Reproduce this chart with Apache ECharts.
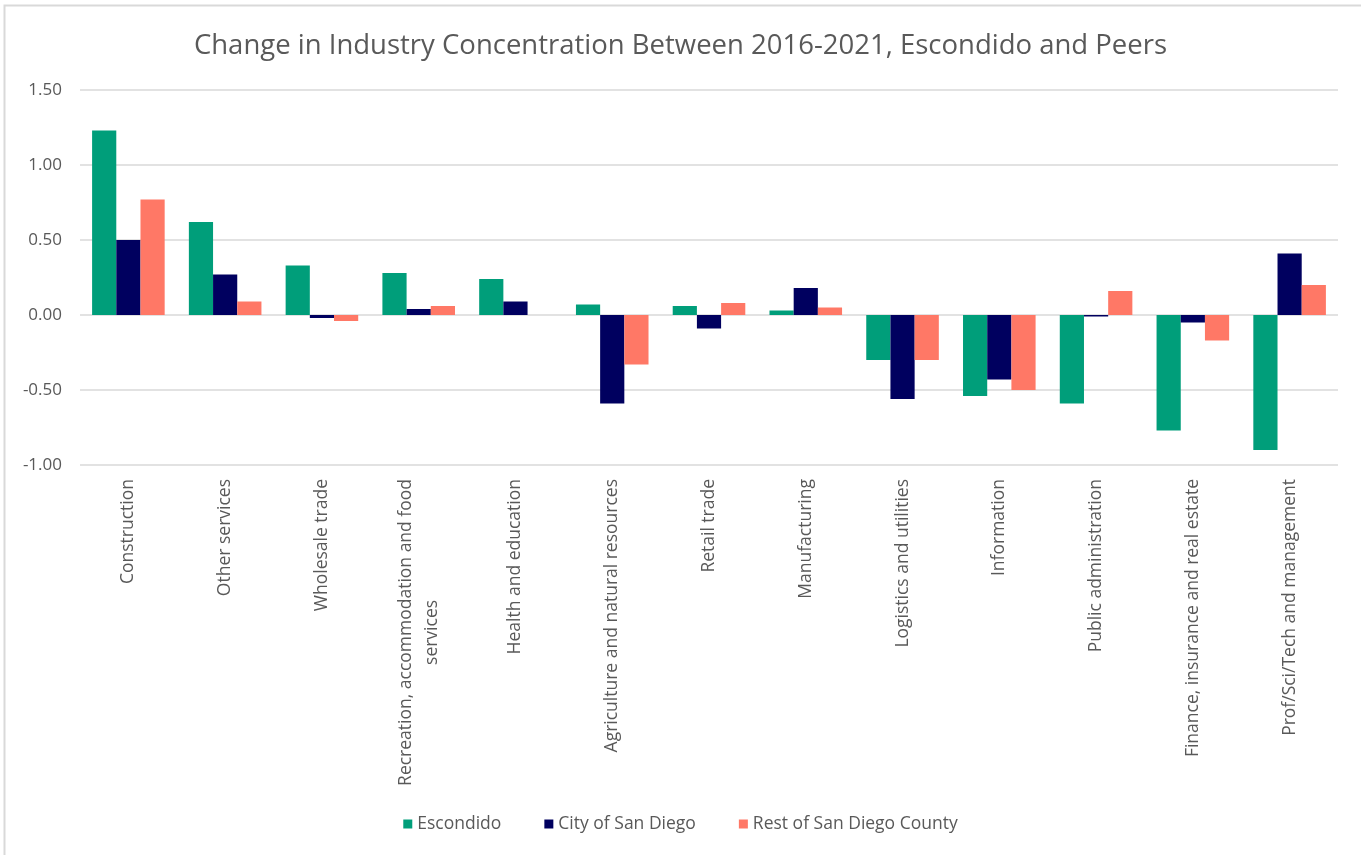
<!DOCTYPE html>
<html>
<head>
<meta charset="utf-8">
<title>Change in Industry Concentration Between 2016-2021</title>
<script src="https://cdn.jsdelivr.net/npm/echarts@6/dist/echarts.min.js"></script>
<style>
  html, body { margin: 0; padding: 0; background: #ffffff; }
  #chart { width: 1361px; height: 855px; }
</style>
</head>
<body>
<div id="chart"></div>
<script>
// Industries, ordered by Escondido's change
const industries = [
  'Construction',
  'Other services',
  'Wholesale trade',
  'Recreation, accommodation and food\nservices',
  'Health and education',
  'Agriculture and natural resources',
  'Retail trade',
  'Manufacturing',
  'Logistics and utilities',
  'Information',
  'Public administration',
  'Finance, insurance and real estate',
  'Prof/Sci/Tech and management'
];

// Change in location quotient, 2016 to 2021
const escondido = [1.23, 0.62, 0.33, 0.28, 0.24, 0.07, 0.06, 0.03, -0.30, -0.54, -0.59, -0.77, -0.90];
const citySanDiego = [0.50, 0.27, -0.02, 0.04, 0.09, -0.59, -0.09, 0.18, -0.56, -0.43, -0.01, -0.05, 0.41];
const restOfCounty = [0.77, 0.09, -0.04, 0.06, 0.00, -0.33, 0.08, 0.05, -0.30, -0.50, 0.16, -0.17, 0.20];

const seriesNames = ['Escondido', 'City of San Diego', 'Rest of San Diego County'];
const seriesColors = ['#009E7A', '#00005F', '#FF7866'];

const FONT = '"Open Sans", "Noto Sans", sans-serif';
const TEXT = '#595959';

const chart = echarts.init(document.getElementById('chart'));

chart.setOption({
  backgroundColor: '#ffffff',
  animation: false,
  textStyle: { fontFamily: FONT },
  title: {
    text: 'Change in Industry Concentration Between 2016-2021, Escondido and Peers',
    left: 'center',
    top: 27,
    textStyle: { fontFamily: FONT, fontSize: 27.5, fontWeight: 'normal', color: TEXT }
  },
  legend: {
    bottom: 17,
    left: 'center',
    icon: 'rect',
    itemWidth: 9,
    itemHeight: 9,
    itemGap: 43,
    textStyle: { fontFamily: FONT, fontSize: 17.5, color: TEXT },
    data: seriesNames
  },
  grid: { left: 80, right: 23, top: 90, bottom: 390, containLabel: false },
  xAxis: {
    type: 'category',
    data: industries,
    axisLine: { show: false, onZero: false },
    axisTick: { show: false },
    axisLabel: {
      rotate: 90,
      interval: 0,
      margin: 14,
      fontFamily: FONT,
      fontSize: 17.5,
      color: TEXT,
      lineHeight: 26,
      formatter: v => v.split('\n').map(s => '{c|' + s + '}').join('\n'),
      rich: { c: { align: 'center', fontFamily: FONT, fontSize: 17.5, color: TEXT, lineHeight: 26 } }
    }
  },
  yAxis: {
    type: 'value',
    min: -1,
    max: 1.5,
    interval: 0.5,
    axisLine: { show: false },
    axisTick: { show: false },
    axisLabel: {
      margin: 18,
      fontFamily: FONT,
      fontSize: 17,
      color: TEXT,
      formatter: v => v.toFixed(2)
    },
    splitLine: { lineStyle: { color: '#d9d9d9', width: 1.5 } }
  },
  series: [escondido, citySanDiego, restOfCounty].map((vals, i) => ({
    name: seriesNames[i],
    type: 'bar',
    data: vals,
    barGap: '0%',
    barCategoryGap: '25%',
    itemStyle: { color: seriesColors[i] }
  })),
  graphic: [{
    type: 'polyline',
    silent: true,
    shape: { points: [[4.5, 860], [4.5, 5.5], [1365, 5.5]] },
    style: { stroke: '#d9d9d9', lineWidth: 2, fill: null }
  }]
});
</script>
</body>
</html>
